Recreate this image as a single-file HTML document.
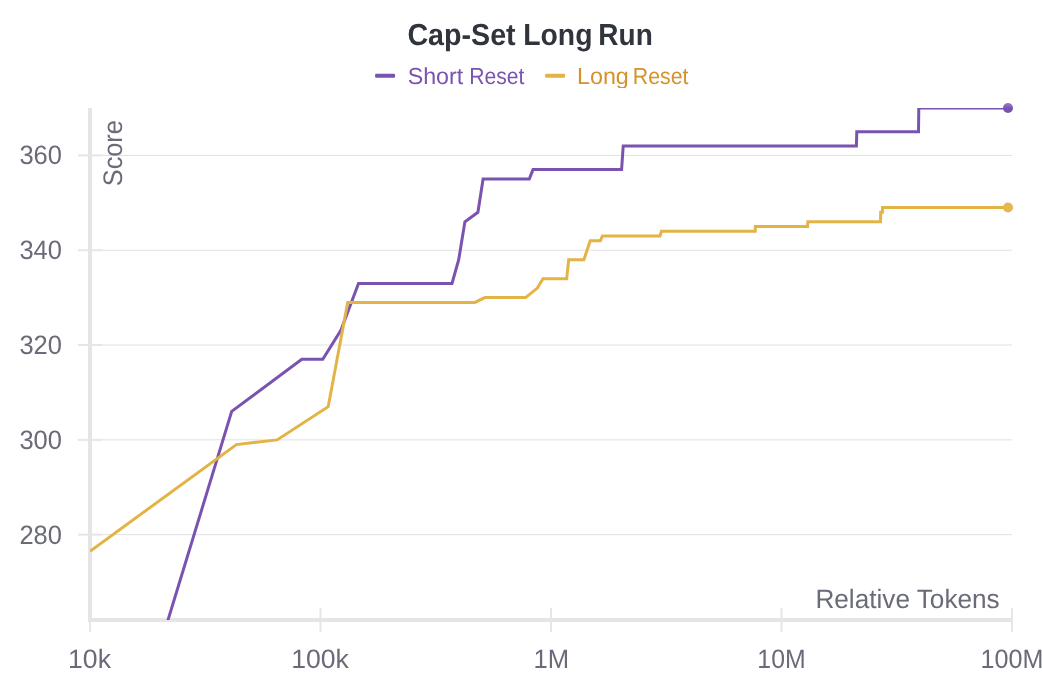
<!DOCTYPE html>
<html><head><meta charset="utf-8"><title>Cap-Set Long Run</title>
<style>
html,body{margin:0;padding:0;background:#fff;}
body{width:1042px;height:698px;overflow:hidden;}
svg{display:block;font-family:"Liberation Sans",sans-serif;text-rendering:geometricPrecision;}
</style></head><body>
<svg width="1042" height="698" viewBox="0 0 1042 698">
<defs>
<clipPath id="plot"><rect x="90" y="108" width="925" height="512"/></clipPath>
<clipPath id="leg"><rect x="0" y="0" width="1042" height="88"/></clipPath>
<linearGradient id="pdot" x1="0" y1="0" x2="0" y2="1"><stop offset="0" stop-color="#9a7cc5"/><stop offset="0.55" stop-color="#7853b0"/><stop offset="1" stop-color="#7650ae"/></linearGradient>
</defs>
<rect width="1042" height="698" fill="#fff"/>
<g>
<rect x="92" y="154.91" width="920" height="1" fill="#e1e1e5"/>
<rect x="92" y="249.72" width="920" height="1" fill="#e1e1e5"/>
<rect x="92" y="344.54" width="920" height="1" fill="#e1e1e5"/>
<rect x="92" y="439.35" width="920" height="1" fill="#e1e1e5"/>
<rect x="92" y="534.17" width="920" height="1" fill="#e1e1e5"/>
</g>
<g>
<rect x="78" y="154.41" width="24" height="2" fill="#e6e6e9"/>
<rect x="78" y="249.22" width="24" height="2" fill="#e6e6e9"/>
<rect x="78" y="344.04" width="24" height="2" fill="#e6e6e9"/>
<rect x="78" y="438.85" width="24" height="2" fill="#e6e6e9"/>
<rect x="78" y="533.67" width="24" height="2" fill="#e6e6e9"/>
<rect x="89.0" y="608" width="2" height="24" fill="#e6e6e9"/>
<rect x="319.5" y="608" width="2" height="24" fill="#e6e6e9"/>
<rect x="550.0" y="608" width="2" height="24" fill="#e6e6e9"/>
<rect x="780.5" y="608" width="2" height="24" fill="#e6e6e9"/>
<rect x="1011.0" y="608" width="2" height="24" fill="#e6e6e9"/>
</g>
<rect x="88" y="108" width="4" height="514" fill="#e5e5e8"/>
<rect x="88" y="618" width="925" height="4" fill="#e5e5e8"/>
<g clip-path="url(#plot)" fill="none" stroke-width="3" stroke-linejoin="miter">
<path d="M160.0,646.2 L231.7,411.4 L301.8,359.3 L322.8,359.3 L341.0,330.1 L358.5,283.4 L452.0,283.4 L458.7,259.7 L464.9,221.8 L477.9,212.3 L483.1,179.1 L529.3,179.1 L533.0,169.6 L621.6,169.6 L623.2,145.9 L856.4,145.9 L856.8,131.7 L918.5,131.7 L918.8,108.0 L1008.0,108.0" stroke="#7a53b0"/>
<path d="M90.0,551.3 L236.4,444.6 L277.1,439.9 L328.2,406.7 L347.7,302.4 L474.9,302.4 L484.9,297.6 L525.6,297.6 L537.3,288.1 L543.0,278.7 L566.7,278.7 L568.7,259.7 L583.9,259.7 L590.2,240.7 L600.4,240.7 L602.4,236.0 L660.0,236.0 L661.4,231.3 L755.2,231.3 L755.4,226.5 L807.6,226.5 L807.8,221.8 L880.5,221.8 L880.7,212.3 L882.4,212.3 L882.6,207.6 L1008.0,207.6" stroke="#e3b345"/>
</g>
<circle cx="1008" cy="108.0" r="5" fill="url(#pdot)"/>
<circle cx="1008" cy="207.56" r="5" fill="#e5b84f"/>
<g fill="#6a6b79" font-size="26.6">
<text x="61.9" y="164" text-anchor="end" textLength="42.5" lengthAdjust="spacingAndGlyphs">360</text>
<text x="61.9" y="259" text-anchor="end" textLength="42.5" lengthAdjust="spacingAndGlyphs">340</text>
<text x="61.9" y="354" text-anchor="end" textLength="42.5" lengthAdjust="spacingAndGlyphs">320</text>
<text x="61.9" y="449" text-anchor="end" textLength="42.5" lengthAdjust="spacingAndGlyphs">300</text>
<text x="61.9" y="544" text-anchor="end" textLength="42.5" lengthAdjust="spacingAndGlyphs">280</text>
<text x="89.5" y="668" text-anchor="middle">10k</text>
<text x="320.0" y="668" text-anchor="middle">100k</text>
<text x="551.2" y="668" text-anchor="middle" textLength="35.6" lengthAdjust="spacingAndGlyphs">1M</text>
<text x="781.5" y="668" text-anchor="middle" textLength="48.3" lengthAdjust="spacingAndGlyphs">10M</text>
<text x="1012.0" y="668" text-anchor="middle" textLength="62.8" lengthAdjust="spacingAndGlyphs">100M</text>
<text x="999.7" y="607.6" text-anchor="end" textLength="184.3" lengthAdjust="spacingAndGlyphs">Relative Tokens</text>
<text transform="translate(122.2,186.2) rotate(-90)" font-size="26.8" textLength="66" lengthAdjust="spacingAndGlyphs">Score</text>
</g>
<text font-size="30.4" font-weight="bold" fill="#30353d"><tspan x="407.43" y="44.7" textLength="108.22" lengthAdjust="spacingAndGlyphs">Cap-Set</tspan> <tspan x="523.2" y="44.7" textLength="69.29" lengthAdjust="spacingAndGlyphs">Long</tspan> <tspan x="598.33" y="44.7" textLength="54.41" lengthAdjust="spacingAndGlyphs">Run</tspan></text>
<g clip-path="url(#leg)" font-size="23.2">
<rect x="375.1" y="73.75" width="20" height="4" rx="1.2" fill="#7a53b0"/>
<text fill="#7a53b0"><tspan x="407.65" y="84" textLength="55.53" lengthAdjust="spacingAndGlyphs">Short</tspan> <tspan x="469.16" y="84" textLength="55.29" lengthAdjust="spacingAndGlyphs">Reset</tspan></text>
<rect x="545.1" y="73.75" width="20" height="4" rx="1.2" fill="#e3b345"/>
<text fill="#d4922b"><tspan x="576.99" y="84" textLength="51.81" lengthAdjust="spacingAndGlyphs">Long</tspan> <tspan x="632.75" y="84" textLength="55.71" lengthAdjust="spacingAndGlyphs">Reset</tspan></text>
</g>
</svg>
</body></html>
